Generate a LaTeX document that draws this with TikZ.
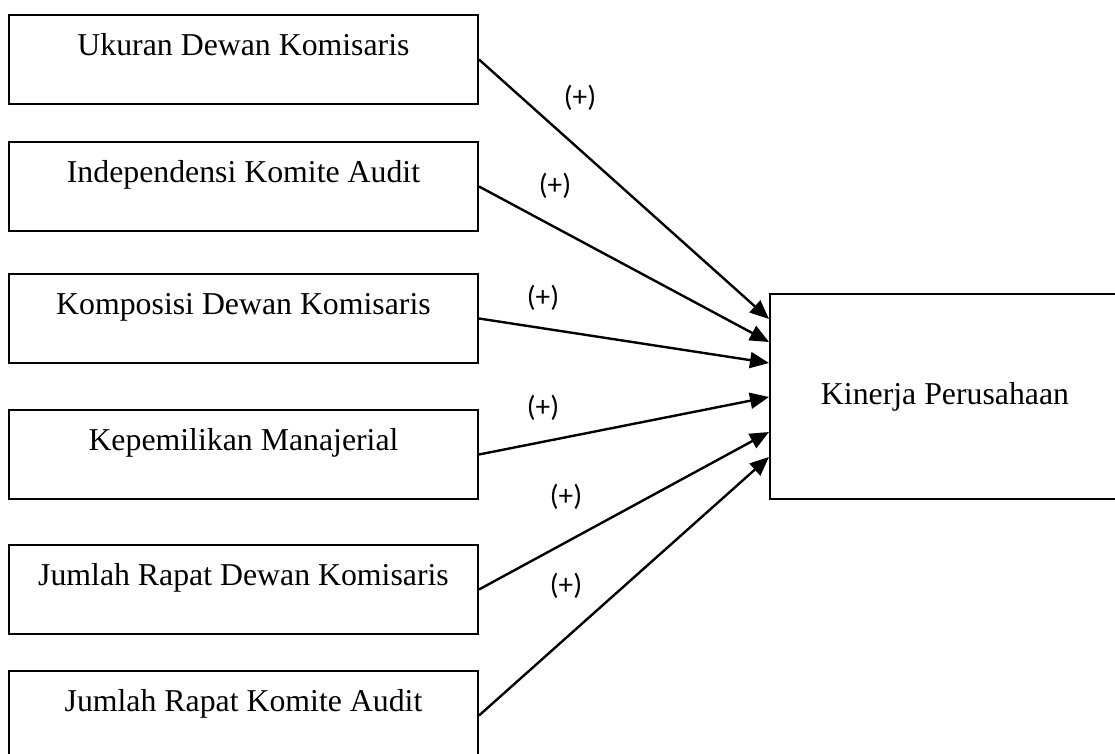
\documentclass[tikz,border=0pt]{standalone}
\usepackage{fontspec}
\setmainfont{Liberation Serif}
\newfontfamily\signfont{Carlito}
\usetikzlibrary{arrows.meta}

\begin{document}
\begin{tikzpicture}[x=0.5pt, y=-0.5pt,
    varbox/.style={draw, line width=1pt, inner sep=0pt, minimum width=234.5pt,
      text height=20.2pt, text depth=24.3pt, font=\fontsize{15.9pt}{19pt}\selectfont},
    resultbox/.style={draw, line width=1pt, minimum width=175pt, minimum height=102.5pt,
      font=\fontsize{15.9pt}{19pt}\selectfont},
    sign/.style={inner sep=0pt, font=\signfont\fontsize{14.6pt}{17pt}\selectfont},
    link/.style={-{Triangle[length=9.5pt, width=8pt]}, line width=1.2pt}]
    \useasboundingbox (0,0) rectangle (1115,754);

    % independent variables
    \node[varbox] (ukuran) at (243.5, 59.5) {Ukuran Dewan Komisaris};
    \node[varbox] (independensi) at (243.5, 186.5) {Independensi Komite Audit};
    \node[varbox] (komposisi) at (243.5, 318.5) {Komposisi Dewan Komisaris};
    \node[varbox] (kepemilikan) at (243.5, 454.5) {Kepemilikan Manajerial};
    \node[varbox] (rapatdk) at (243.5, 589.5) {Jumlah Rapat Dewan Komisaris};
    \node[varbox] (rapatka) at (243.5, 715.5) {Jumlah Rapat Komite Audit};

    % dependent variable
    \node[resultbox] (kinerja) at (945, 396.5) {Kinerja Perusahaan};

    \foreach \src/\dy in {ukuran/38.75, independensi/27.25, komposisi/16.75,
        kepemilikan/-0.25, rapatdk/-17.75, rapatka/-30.25}
      \draw[link] (\src.east) -- ([yshift=\dy pt]kinerja.west);

    \node[sign] (sign1) at (580, 98) {(+)};
    \node[sign] (sign2) at (555, 186) {(+)};
    \node[sign] (sign3) at (543, 298) {(+)};
    \node[sign] (sign4) at (543, 408) {(+)};
    \node[sign] (sign5) at (566, 497) {(+)};
    \node[sign] (sign6) at (566, 586) {(+)};
\end{tikzpicture}
\end{document}
